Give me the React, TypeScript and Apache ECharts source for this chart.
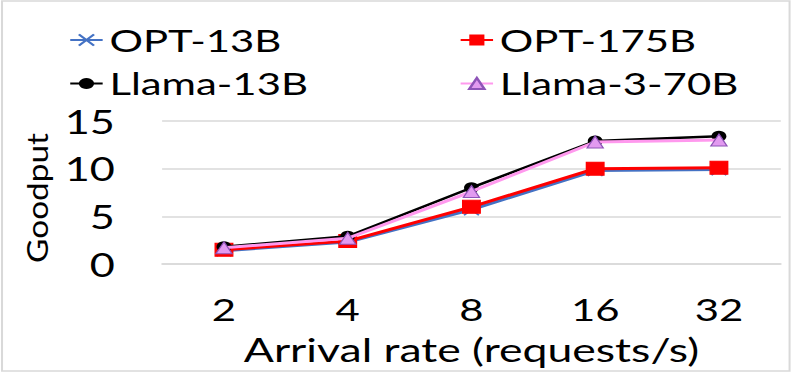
import React, { useEffect, useRef } from "react";
import * as echarts from "echarts";

const categories = ["2", "4", "8", "16", "32"];
const opt13b = [1.4, 2.3, 5.7, 9.8, 9.9];
const opt175b = [1.5, 2.4, 6.0, 10.0, 10.1];
const llama13b = [1.8, 2.9, 8.0, 12.9, 13.4];
const llama3_70b = [1.7, 2.7, 7.6, 12.8, 13.0];
const yTicks = [0, 5, 10, 15];

const FONT = "Lato";
const crossPath = "path://M0,0L10,10M10,0L0,10";

// The reference is horizontally stretched; render narrower and stretch with CSS.
const PAGE_W = 797;
const CHART_W = 590;
const SX = PAGE_W / CHART_W;

export default function App() {
  const ref = useRef<HTMLDivElement>(null);
  useEffect(() => {
    const chart = echarts.init(ref.current!, null, { renderer: "svg" });
    const legendText = { fontSize: 31, lineHeight: 34, color: "#000", fontFamily: FONT };
    chart.setOption({
      animation: false,
      backgroundColor: "#ffffff",
      textStyle: { fontFamily: FONT },
      grid: { left: 120, right: 12, top: 121, bottom: 110 },
      legend: [
        {
          orient: "vertical",
          left: 51,
          top: 23,
          padding: 0,
          itemWidth: 24,
          itemHeight: 14,
          itemGap: 9.5,
          data: ["OPT-13B", "Llama-13B"],
          textStyle: legendText,
        },
        {
          orient: "vertical",
          left: 340,
          top: 23,
          padding: 0,
          itemWidth: 24,
          itemHeight: 14,
          itemGap: 9.5,
          data: ["OPT-175B", "Llama-3-70B"],
          textStyle: legendText,
        },
      ],
      xAxis: {
        type: "category",
        data: categories,
        boundaryGap: true,
        axisLine: { show: true, lineStyle: { color: "#d9d9d9", width: 1.5 } },
        axisTick: { show: false },
        axisLabel: {
          fontSize: 31,
          lineHeight: 22,
          color: "#000",
          margin: 34.5,
          fontFamily: FONT,
        },
        name: "Arrival rate (requests/s)",
        nameLocation: "middle",
        nameGap: 74.5,
        nameTextStyle: { fontSize: 33, lineHeight: 20, color: "#000", fontFamily: FONT },
      },
      yAxis: {
        type: "value",
        min: yTicks[0],
        max: yTicks[yTicks.length - 1],
        interval: 5,
        axisLine: { show: false },
        axisTick: { show: false },
        splitLine: { lineStyle: { color: "#d9d9d9", width: 1.5 } },
        axisLabel: { fontSize: 32, color: "#000", margin: 35, fontFamily: FONT },
      },
      graphic: [
        {
          type: "rect",
          shape: { x: 1.5, y: 1, width: 583, height: 370 },
          style: { fill: "none", stroke: "#d9d9d9", lineWidth: 1.5 },
          z: -1,
        },
        {
          type: "text",
          x: 27,
          y: 198,
          rotation: Math.PI / 2,
          scaleX: 1.15,
          scaleY: 1 / SX,
          style: {
            text: "Goodput",
            fontSize: 29,
            fontFamily: FONT,
            fill: "#000",
            align: "center",
            verticalAlign: "middle",
          },
        },
      ],
      series: [
        {
          name: "OPT-13B",
          type: "line",
          data: opt13b,
          symbol: crossPath,
          symbolSize: 11,
          lineStyle: { color: "#4472C4", width: 3 },
          itemStyle: { color: "none", borderColor: "#4472C4", borderWidth: 1.5 },
          z: 1,
        },
        {
          name: "OPT-175B",
          type: "line",
          data: opt175b,
          symbol: "rect",
          symbolSize: 13,
          lineStyle: { color: "#FF0000", width: 3 },
          itemStyle: { color: "#FF0000", borderColor: "#FF0000" },
          z: 2,
        },
        {
          name: "Llama-13B",
          type: "line",
          data: llama13b,
          symbol: "circle",
          symbolSize: 11,
          lineStyle: { color: "#000000", width: 2.5 },
          itemStyle: { color: "#000000" },
          z: 3,
        },
        {
          name: "Llama-3-70B",
          type: "line",
          data: llama3_70b,
          symbol: "triangle",
          symbolSize: 12,
          lineStyle: { color: "#FF99EE", width: 3 },
          itemStyle: { color: "#E29AF0", borderColor: "#8E54B8", borderWidth: 1 },
          z: 4,
        },
      ],
    });
    return () => chart.dispose();
  }, []);
  return (
    <div
      ref={ref}
      style={{
        position: "absolute",
        left: 0,
        top: 0,
        width: CHART_W,
        height: 374,
        transform: `scaleX(${SX})`,
        transformOrigin: "0 0",
      }}
    />
  );
}
